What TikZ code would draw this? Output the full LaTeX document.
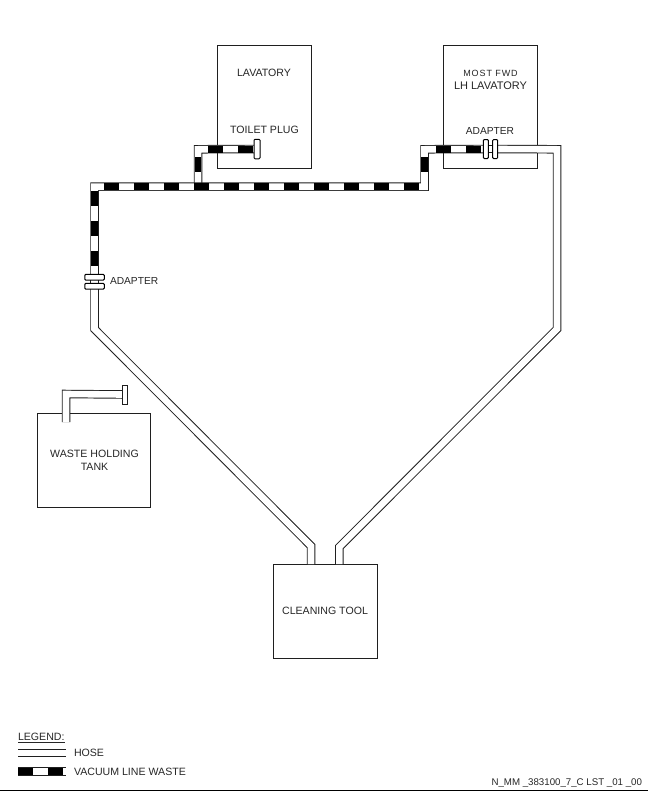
\documentclass[tikz,border=0pt]{standalone}
\usepackage{fontspec}
\setmainfont{Liberation Sans}
\definecolor{ink}{gray}{0.12}
\pgfdeclarelayer{under}
\pgfsetlayers{under,main}
\tikzset{
  box/.style={draw=ink,line width=.95pt,fill=white,inner sep=0pt,outer sep=0pt},
  plate/.style={draw=black,line width=1pt,fill=white,rounded corners=1pt,inner sep=0pt,outer sep=0pt},
  flatplate/.style={draw=ink,line width=.95pt,fill=white,inner sep=0pt,outer sep=0pt},
  hose/.style={draw=ink,line width=.95pt,double=white,double distance=6.6pt,line join=miter,line cap=butt,miter limit=10},
  vac/.style={line width=6.8pt,draw=black,line cap=butt,dash pattern=on 15pt off 15pt},
  lab/.style={inner sep=0pt,outer sep=0pt,text=black!85,font=\fontsize{10.6}{12.6}\selectfont,align=center}
}
\begin{document}
\begin{tikzpicture}[x=1pt,y=-1pt]
\useasboundingbox (0,0) rectangle (648,792);
% plugs and adapters
\node[plate,minimum width=6pt,minimum height=19.5pt] (plug) at (257,149) {};
\node[flatplate,minimum width=5pt,minimum height=19pt] (tplugn) at (124.8,394.5) {};
\node[plate,minimum width=5pt,minimum height=19pt] (ra) at (485.8,149) {};
\node[plate,minimum width=5pt,minimum height=19pt] (rb) at (495.2,149) {};
\node[plate,minimum width=19.5pt,minimum height=5.7pt] (la) at (94.5,277.2) {};
\node[plate,minimum width=19.5pt,minimum height=5.7pt] (lb) at (94.5,286.2) {};
% named ends
\coordinate (tlj) at (198,183.4);
\coordinate (ctl) at (311,564);
\coordinate (ctr) at (339.3,564);
\coordinate (tkj) at (66,422);
\begin{pgfonlayer}{under}
% boxes
\node[box,minimum width=93.5pt,minimum height=123pt] (lav) at (264.45,106.5) {};
\node[box,minimum width=93.5pt,minimum height=123pt] (fwd) at (490.45,106.5) {};
\node[box,minimum width=113pt,minimum height=94pt] (tank) at (94.2,460) {};
\node[box,minimum width=103.5pt,minimum height=94pt] (tool) at (325.45,611) {};
% hoses
\draw[hose] (plug.west) -- (198,149.3) -- (tlj);
\draw[hose] (ra.west) -- (424.5,149.3) -- (424.5,186.7) -- (94.5,186.7) -- (la.north);
\draw[hose] (la.south) -- (lb.north);
\draw[hose] (ra.east) -- (rb.west);
\draw[hose] (lb.south) -- (94.5,329) -- (311,546) -- (ctl);
\draw[hose] (rb.east) -- (557,149.3) -- (557,329) -- (339.3,547) -- (ctr);
\draw[hose] (tplugn.west) -- (66,394) -- (tkj);
% vacuum line black bands
\draw[vac] (104,186.7) -- (420,186.7);
\draw[vac] (94.5,191) -- (94.5,268);
\draw[vac] (198,157) -- (198,183);
\draw[vac] (208,149.3) -- (253,149.3);
\draw[vac] (424.5,157) -- (424.5,172);
\draw[vac] (436,149.3) -- (481.5,149.3);
\end{pgfonlayer}
% labels
\node[lab] (tlav) at (264,73) {LAVATORY};
\node[lab] (tplug) at (264.5,130) {TOILET PLUG};
\node[lab,font=\fontsize{9}{11}\selectfont\addfontfeature{LetterSpace=10}] (tfwd1) at (490.5,73.5) {MOST FWD};
\node[lab,font=\fontsize{11}{13}\selectfont] (tfwd2) at (490.5,86) {LH LAVATORY};
\node[lab,font=\fontsize{10.2}{12}\selectfont] (tadr) at (490,131) {ADAPTER};
\node[lab,anchor=west,font=\fontsize{10.2}{12}\selectfont] (tadl) at (110,281) {ADAPTER};
\node[lab] (ttank) at (94.5,460.5) {WASTE HOLDING\\[0.4pt]TANK};
\node[lab] (ttool) at (325,611) {CLEANING TOOL};
% legend
\node[lab,anchor=west] (leg) at (18,738) {\underline{LEGEND:}};
\coordinate (h0) at (18,753);
\coordinate (h1) at (66,753);
\draw[hose] (h0) -- (h1);
\node[lab,anchor=west] (lhose) at (74,753) {HOSE};
\coordinate (v0) at (18,771.5);
\coordinate (v1) at (66,771.5);
\draw[hose] (v0) -- (v1);
\draw[vac] (v0) -- (v1);
\node[lab,anchor=west] (lvac) at (74,772) {VACUUM LINE WASTE};
\node[lab,anchor=east,font=\fontsize{9.7}{11}\selectfont] (ref) at (642,783.5) {N\_MM \_383100\_7\_C LST \_01 \_00};
\draw[draw=black,line width=1pt] (0,790.7) -- (648,790.7);
\end{tikzpicture}
\end{document}
